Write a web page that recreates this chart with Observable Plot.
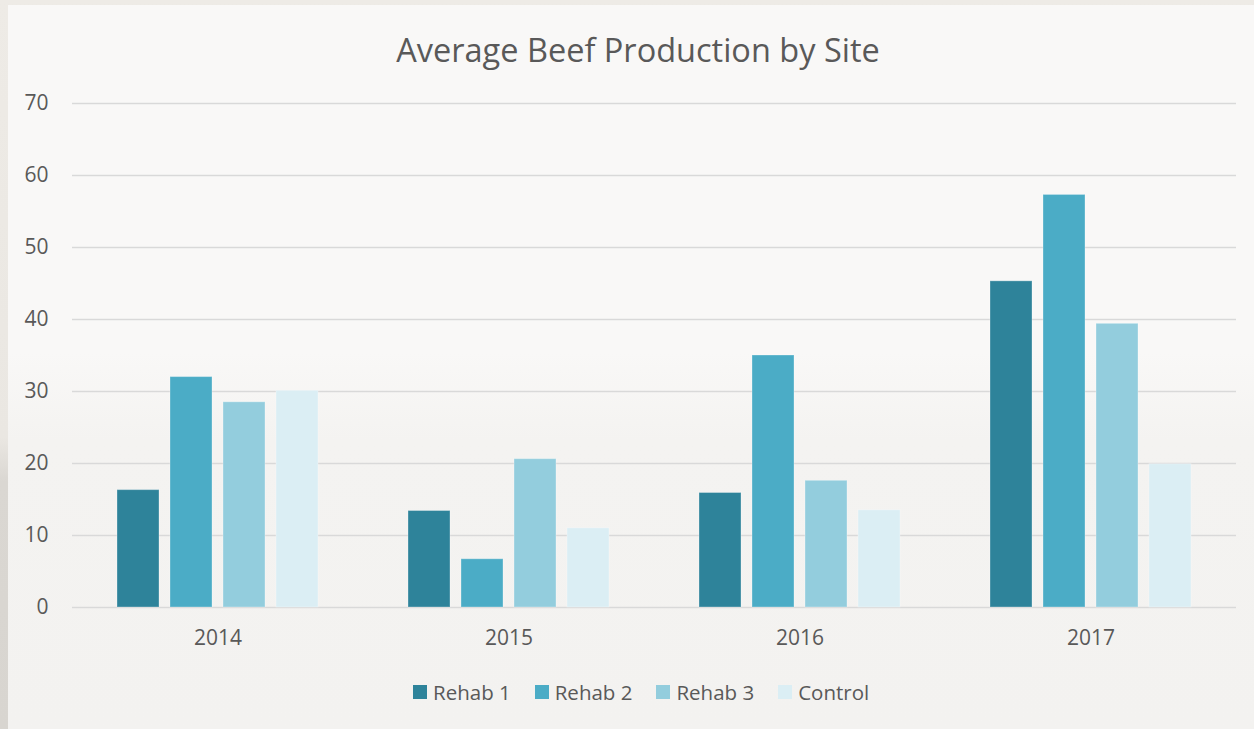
<!DOCTYPE html>
<html>
<head>
<meta charset="utf-8">
<script src="https://cdn.jsdelivr.net/npm/d3@7"></script>
<script src="https://cdn.jsdelivr.net/npm/@observablehq/plot@0.6"></script>
<style>
  html, body { margin: 0; padding: 0; }
  body {
    width: 1254px; height: 729px; overflow: hidden;
    background: linear-gradient(to bottom, #EEEBE6 0%, #EAE7E2 60%, #DAD7D2 66%, #D8D5D0 100%);
    font-family: "Open Sans", sans-serif; color: #595959;
    position: relative;
  }
  #panel {
    position: absolute; left: 8px; top: 5px; width: 1246px; height: 724px;
    background: linear-gradient(to bottom, #F9F8F7 0%, #F9F8F7 48%, #F4F3F1 60%, #F3F2F0 100%);
  }
  #title {
    position: absolute; left: 0; top: 28px; width: 1260px; text-align: center;
    font-size: 32.5px; line-height: 33px; color: #595959; white-space: nowrap;
  }
  #chart { position: absolute; left: 0; top: 75px; }
  #legend {
    position: absolute; left: 405px; top: 673px; display: flex; align-items: center;
    font-size: 20.5px; line-height: 28px; color: #595959; white-space: nowrap;
  }
  .item { display: flex; align-items: center; margin-right: 24px; }
  .sw { width: 14px; height: 14px; margin-right: 6px; }
</style>
</head>
<body>
<div id="panel">
  <div id="title">Average Beef Production by Site</div>
  <div id="chart"></div>
  <div id="legend"></div>
</div>
<script>
// Average beef production per site and year
const years = ["2014", "2015", "2016", "2017"];
const sites = ["Rehab 1", "Rehab 2", "Rehab 3", "Control"];
const rehab1 = [16.3, 13.4, 15.9, 45.3];
const rehab2 = [32.0, 6.7, 35.0, 57.3];
const rehab3 = [28.5, 20.6, 17.6, 39.4];
const control = [30.1, 11.0, 13.5, 19.9];
const siteColors = ["#2E839A", "#4BACC6", "#93CDDD", "#DBEEF4"];
const yTicks = [0, 10, 20, 30, 40, 50, 60, 70];

const seriesBySite = [rehab1, rehab2, rehab3, control];
const rows = [];
years.forEach((year, i) => {
  sites.forEach((site, j) => rows.push({year, site, value: seriesBySite[j][i]}));
});

const chart = Plot.plot({
  width: 1246,
  height: 580,
  marginLeft: 64,
  marginRight: 18,
  marginTop: 23,
  marginBottom: 53,
  style: {background: "transparent", fontFamily: "Open Sans", fontSize: "21px", color: "#595959", overflow: "visible"},
  fx: {domain: years, padding: 0, label: null, tickSize: 0, tickPadding: 23, axis: "bottom"},
  x: {domain: sites, paddingInner: 0.2, paddingOuter: 0.8, axis: null},
  y: {domain: [0, 70], ticks: yTicks, tickSize: 0, tickPadding: 24, label: null},
  color: {domain: sites, range: siteColors},
  marks: [
    Plot.ruleY(yTicks, {stroke: "#D9D9D9", strokeWidth: 1.6}),
    Plot.barY(rows, {fx: "year", x: "site", y: "value", fill: "site", stroke: "white", strokeOpacity: 0.3, strokeWidth: 1})
  ]
});
document.getElementById("chart").appendChild(chart);

// Legend swatches
const legend = document.getElementById("legend");
sites.forEach((site, j) => {
  const item = document.createElement("div");
  item.className = "item";
  const sw = document.createElement("div");
  sw.className = "sw";
  sw.style.background = siteColors[j];
  const label = document.createElement("span");
  label.textContent = site;
  item.appendChild(sw);
  item.appendChild(label);
  legend.appendChild(item);
});
</script>
</body>
</html>
